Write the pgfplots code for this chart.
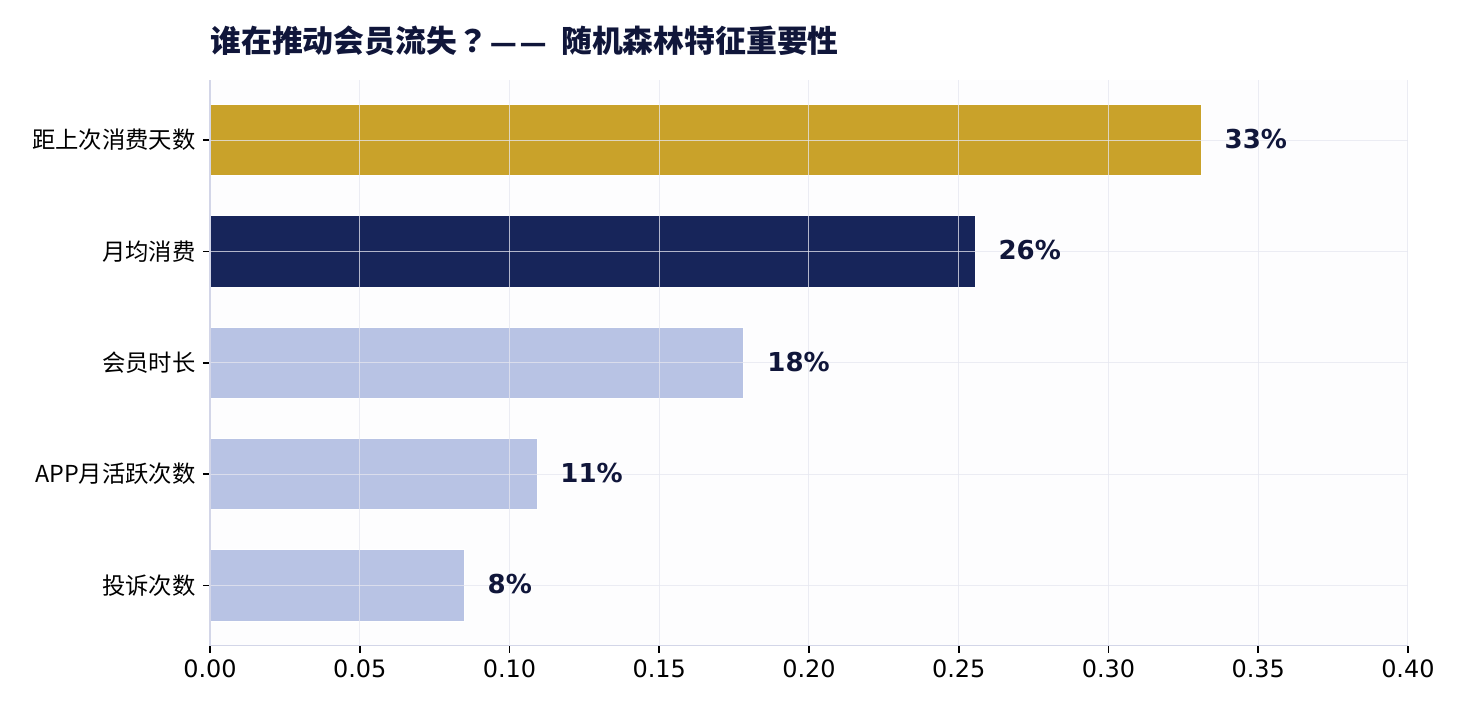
\documentclass[border=0pt]{standalone}
\usepackage{fontspec}
\setmainfont{DejaVu Sans}
\newfontfamily\cjk{Noto Sans CJK SC}
\newfontfamily\cjktc{Noto Sans CJK TC}
\usepackage{pgfplots}
\pgfplotsset{compat=1.18}
\definecolor{gold}{HTML}{C9A22A}
\definecolor{navy}{HTML}{17255A}
\definecolor{lav}{HTML}{B8C3E4}
\definecolor{ink}{HTML}{10163A}
\definecolor{spine}{HTML}{D3D6E8}
\definecolor{gridc}{HTML}{E6E7F0}
\definecolor{panel}{HTML}{FDFDFE}
\begin{document}
\begin{tikzpicture}
\useasboundingbox (-100.8pt,-32.8pt) rectangle (600.96pt,309.9pt);
\begin{axis}[
  scale only axis,
  width=575pt, height=271.5pt,
  xmin=0, xmax=0.4, ymin=-0.54, ymax=4.54,
  xbar, bar width=0.64, bar shift=0pt,
  xtick={0,0.05,0.1,0.15,0.2,0.25,0.3,0.35,0.4},
  xticklabel style={/pgf/number format/.cd, fixed, fixed zerofill, precision=2, assume math mode=true},
  ytick={0,1,2,3,4},
  yticklabels={投诉次数, APP月活跃次数, 会员时长, 月均消费, 距上次消费天数},
  yticklabel style={font=\cjk\fontsize{11.2}{13}\selectfont},
  tick label style={font=\fontsize{11.5}{13}\selectfont},
  axis x line*=bottom, axis y line*=left,
  axis line style={spine, line width=0.7pt, -},
  tick style={black, line width=0.8pt},
  major tick length=3.4pt, tick align=outside,
  grid=major, major grid style={gridc, line width=0.5pt, opacity=0.75},
  axis on top,
  axis background/.style={fill=panel},
  nodes near coords, point meta=explicit symbolic,
  nodes near coords style={anchor=west, xshift=11pt, yshift=0.5pt, inner sep=0pt,
    font=\fontsize{12.5}{14}\selectfont\bfseries, text=ink},
  every axis plot/.append style={draw=white, line width=0.5pt},
  clip=false,
]
% feature importances, top to bottom
\addplot[fill=gold] coordinates {(0.331,4) [33\%]};
\addplot[fill=navy] coordinates {(0.2555,3) [26\%]};
\addplot[fill=lav] coordinates {(0.1783,2) [18\%] (0.1092,1) [11\%] (0.0849,0) [8\%]};
\node[anchor=base west, inner sep=0pt, text=ink,
  font=\cjk\bfseries\fontsize{14.8}{16}\selectfont]
  at ([yshift=13.4pt]rel axis cs:0,1)
  {谁在推动会员流失{\cjktc\bfseries ？}\kern1pt{\rmfamily\bfseries\fontsize{13}{14}\selectfont —\kern1.2pt—}\kern7pt\relax 随机森林特征重要性};
\end{axis}
\end{tikzpicture}
\end{document}
